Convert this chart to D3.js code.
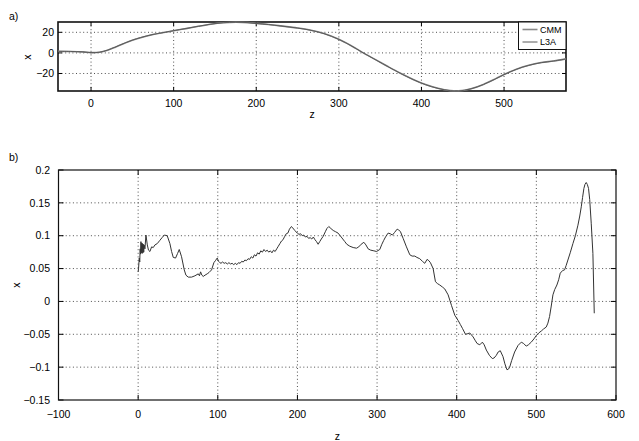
<!DOCTYPE html>
<html>
<head>
<meta charset="utf-8">
<script src="https://cdn.jsdelivr.net/npm/d3@7"></script>
<style>
  body { margin: 0; background: #fff; }
  svg text { font-family: "Liberation Sans", Arial, Helvetica, sans-serif; fill: #000; }
</style>
</head>
<body>
<svg width="639" height="441"></svg>
<script>
// panel a) - trajectory, two overlapping series
var zTop = [-40, -25, -10, 0, 10, 20, 30, 40, 50, 60, 75, 90, 100, 115, 130, 145, 160, 175, 190, 200,
  215, 230, 250, 265, 282, 300, 315, 328, 345, 360, 374, 390, 405, 420, 435, 445, 460, 475, 490, 500,
  515, 530, 545, 560, 575];
var cmm = [1.5, 1.4, 1.0, 0.3, 0.6, 2.6, 5.8, 9.2, 12.3, 14.8, 17.8, 20.0, 21.5, 23.6, 25.8, 27.8, 29.2, 29.8, 29.4, 28.7,
  27.6, 26.2, 24.2, 22.2, 18.8, 13.2, 7.0, 0.8, -6.8, -13.5, -19.5, -25.8, -30.8, -34.4, -36.6, -36.9, -34.8, -30.6, -25.0, -21.0,
  -15.8, -12.0, -9.4, -7.8, -5.8];
var l3a = [1.5, 1.4, 1.0, 0.3, 0.6, 2.7, 5.9, 9.3, 12.4, 14.9, 17.9, 20.1, 21.6, 23.7, 25.9, 27.9, 29.3, 29.8, 29.4, 28.6,
  27.5, 26.1, 24.1, 22.1, 18.7, 13.1, 6.9, 0.7, -6.9, -13.6, -19.6, -25.9, -30.9, -34.5, -36.7, -37.0, -34.9, -30.7, -25.1, -21.1,
  -15.9, -12.1, -9.5, -7.9, -5.9];
var seriesNames = ["CMM", "L3A"];
var topXTicks = [0, 100, 200, 300, 400, 500];
var topYTicks = [-20, 0, 20];

// panel b) - residual
var zBot = [0, 0.5, 1.4, 2, 2.5, 3, 3.5, 4, 4.5, 5, 5.5, 6, 6.5, 7, 7.5, 8.5, 9.8, 11.5, 13, 14.8,
  16.9, 19, 21.1, 24, 27.3, 30, 32.8, 36.5, 39.9, 42, 44.1, 47, 49.5, 51.6, 54.5, 57.9, 60, 62.9, 67.1, 71.3,
  75.5, 77, 78.4, 80, 81.7, 84, 86.7, 89, 92.2, 95.1, 97, 99.3, 101, 102.6, 104, 106, 108, 110, 112, 114,
  116, 118, 120, 122, 124, 126, 128, 130, 132, 134, 136, 138, 140, 142, 144, 146, 148, 150, 152, 154,
  156, 158, 160, 162, 164, 166, 168, 170, 172, 174, 176, 178, 180, 182, 184, 186, 188, 190, 192.5, 194,
  196.7, 198, 200, 202, 204, 206, 208, 210, 212, 214, 216, 218, 220, 222, 224, 226, 228, 230, 232.3, 235,
  237, 239.4, 242, 244.9, 248, 251, 255, 259.5, 262, 265.8, 270, 274.2, 277, 280, 283.4, 286, 288.8, 292, 296, 299.3,
  303.4, 306, 308.4, 311, 313.9, 316.5, 319.3, 322, 325.2, 327, 329.4, 332.7, 336.9, 341.1, 344, 347.4, 350, 353.6, 357, 359.9,
  362.8, 365, 367, 370.4, 373.3, 376, 378.7, 382, 385, 389.2, 393.4, 397.6, 401.8, 404.5, 407.2, 411, 414, 416.4, 418.5, 420.6,
  423, 425.6, 429, 432.2, 434.5, 437.2, 441, 444.7, 447, 449.7, 452, 454.7, 458.1, 460.5, 463.1, 465, 466.5, 469, 472.7, 477,
  481.1, 484, 487.3, 490, 493.6, 497, 499.9, 503, 506.2, 509, 512.4, 514.5, 516.6, 518.7, 520.8, 523, 525.8, 528, 530, 533,
  535.4, 537.5, 539.6, 542.5, 545.9, 549, 552.2, 554.5, 556.4, 558, 559.7, 561, 562.6, 564, 565.5, 567, 568.9, 570, 571, 572.7];
var xBot = [0.045, 0.050, 0.066, 0.060, 0.080, 0.072, 0.091, 0.074, 0.089, 0.073, 0.088, 0.074, 0.087, 0.075, 0.086, 0.080, 0.101, 0.086, 0.078, 0.076,
  0.083, 0.082, 0.086, 0.088, 0.093, 0.097, 0.101, 0.100, 0.088, 0.076, 0.067, 0.066, 0.073, 0.079, 0.068, 0.048, 0.040, 0.037, 0.037, 0.039,
  0.042, 0.039, 0.045, 0.040, 0.038, 0.040, 0.042, 0.044, 0.048, 0.059, 0.062, 0.066, 0.061, 0.059, 0.058, 0.060, 0.058, 0.059, 0.057, 0.059,
  0.057, 0.058, 0.056, 0.058, 0.056, 0.059, 0.058, 0.061, 0.060, 0.063, 0.062, 0.065, 0.064, 0.068, 0.066, 0.071, 0.069, 0.074, 0.072, 0.077,
  0.075, 0.079, 0.076, 0.078, 0.075, 0.077, 0.074, 0.078, 0.076, 0.080, 0.084, 0.088, 0.092, 0.094, 0.099, 0.103, 0.104, 0.110, 0.114, 0.112,
  0.108, 0.106, 0.104, 0.102, 0.103, 0.100, 0.101, 0.098, 0.099, 0.096, 0.097, 0.095, 0.098, 0.094, 0.091, 0.087, 0.091, 0.095, 0.099, 0.106,
  0.111, 0.114, 0.111, 0.108, 0.106, 0.104, 0.098, 0.091, 0.087, 0.084, 0.082, 0.081, 0.083, 0.087, 0.090, 0.086, 0.080, 0.078, 0.077, 0.076,
  0.079, 0.087, 0.093, 0.099, 0.104, 0.103, 0.101, 0.105, 0.110, 0.109, 0.106, 0.096, 0.083, 0.071, 0.069, 0.069, 0.067, 0.065, 0.061, 0.058,
  0.064, 0.062, 0.059, 0.050, 0.030, 0.027, 0.025, 0.022, 0.019, 0.010, -0.006, -0.021, -0.029, -0.035, -0.041, -0.050, -0.049, -0.048, -0.051, -0.054,
  -0.059, -0.064, -0.066, -0.062, -0.066, -0.074, -0.082, -0.087, -0.086, -0.082, -0.077, -0.075, -0.084, -0.095, -0.104, -0.103, -0.100, -0.090, -0.077, -0.067,
  -0.062, -0.064, -0.068, -0.066, -0.062, -0.057, -0.052, -0.048, -0.045, -0.042, -0.039, -0.033, -0.023, -0.007, 0.010, 0.018, 0.025, 0.033, 0.043, 0.047,
  0.048, 0.055, 0.063, 0.074, 0.088, 0.100, 0.116, 0.130, 0.144, 0.158, 0.172, 0.178, 0.181, 0.178, 0.172, 0.155, 0.119, 0.095, 0.073, -0.018];
var botXTicks = [-100, 0, 100, 200, 300, 400, 500, 600];
var botYTicks = [-0.15, -0.1, -0.05, 0, 0.05, 0.1, 0.15, 0.2];

var svg = d3.select("svg");

function fmt(v) {
  return d3.format("")(v).replace("-", "\u2212");
}

// draws box, dotted grid, inward ticks and tick labels (MATLAB look)
function panel(p) {
  var x = p.x, y = p.y;
  var l = x.range()[0], r = x.range()[1], t = y.range()[1], b = y.range()[0];
  var g = svg.append("g");

  g.selectAll(".gx").data(p.xt.filter(function (v) { return x(v) > l + 1 && x(v) < r - 1; }))
    .enter().append("line")
    .attr("x1", function (d) { return x(d); }).attr("x2", function (d) { return x(d); })
    .attr("y1", t).attr("y2", b)
    .style("stroke", "#222").style("stroke-width", 0.8).style("stroke-dasharray", "1,2.6");
  g.selectAll(".gy").data(p.yt.filter(function (v) { return y(v) < b - 1 && y(v) > t + 1; }))
    .enter().append("line")
    .attr("y1", function (d) { return y(d); }).attr("y2", function (d) { return y(d); })
    .attr("x1", l).attr("x2", r)
    .style("stroke", "#222").style("stroke-width", 0.8).style("stroke-dasharray", "1,2.6");

  var tl = p.tick;
  p.xt.forEach(function (v) {
    g.append("line").attr("x1", x(v)).attr("x2", x(v)).attr("y1", b).attr("y2", b - tl)
      .style("stroke", "#000").style("stroke-width", 1);
    g.append("line").attr("x1", x(v)).attr("x2", x(v)).attr("y1", t).attr("y2", t + tl)
      .style("stroke", "#000").style("stroke-width", 1);
    g.append("text").attr("x", x(v)).attr("y", b + p.xlabDy)
      .attr("text-anchor", "middle").style("font-size", "10.5px").text(fmt(v));
  });
  p.yt.forEach(function (v) {
    g.append("line").attr("y1", y(v)).attr("y2", y(v)).attr("x1", l).attr("x2", l + tl)
      .style("stroke", "#000").style("stroke-width", 1);
    g.append("line").attr("y1", y(v)).attr("y2", y(v)).attr("x1", r).attr("x2", r - tl)
      .style("stroke", "#000").style("stroke-width", 1);
    g.append("text").attr("x", l - p.ylabDx).attr("y", y(v)).attr("dy", "0.36em")
      .attr("text-anchor", "end").style("font-size", "10.5px").text(fmt(v));
  });

  g.append("rect").attr("x", l).attr("y", t).attr("width", r - l).attr("height", b - t)
    .style("fill", "none").style("stroke", "#111").style("stroke-width", p.frame);

  g.append("text").attr("x", (l + r) / 2).attr("y", p.zlabY)
    .attr("text-anchor", "middle").style("font-size", "10.5px").text("z");
  g.append("text").attr("transform", "translate(" + p.xlab[0] + "," + p.xlab[1] + ")rotate(-90)")
    .attr("text-anchor", "middle").style("font-size", "10.5px").text("x");
  g.append("text").attr("x", 9).attr("y", p.tagY).style("font-size", "10.5px").text(p.tag);
  return g;
}

// ---- a)
var xA = d3.scaleLinear().domain([-40, 575]).range([58, 566]);
var yA = d3.scaleLinear().domain([-37, 30]).range([91, 22]);
panel({ x: xA, y: yA, xt: topXTicks, yt: topYTicks, tick: 4, xlabDy: 16, ylabDx: 4, frame: 1.6,
  zlabY: 118, xlab: [31, 57], tag: "a)", tagY: 20 });

var lineA = d3.line()
  .x(function (d, i) { return xA(zTop[i]); })
  .y(function (d) { return yA(d); })
  .curve(d3.curveCatmullRom.alpha(0.5));
svg.append("path").datum(cmm).attr("d", lineA)
  .style("fill", "none").style("stroke", "#8a8a8a").style("stroke-width", 1.6);
svg.append("path").datum(l3a).attr("d", lineA)
  .style("fill", "none").style("stroke", "#5a5a5a").style("stroke-width", 1);

// legend
var lg = svg.append("g");
lg.append("rect").attr("x", 518.5).attr("y", 22).attr("width", 47.5).attr("height", 27.5)
  .style("fill", "#fff").style("stroke", "#111").style("stroke-width", 1);
seriesNames.forEach(function (n, i) {
  var yy = 29.5 + i * 12.5;
  lg.append("line").attr("x1", 522.5).attr("x2", 537.5).attr("y1", yy).attr("y2", yy)
    .style("stroke", i === 0 ? "#8a8a8a" : "#5a5a5a").style("stroke-width", i === 0 ? 1.6 : 1);
  lg.append("text").attr("x", 540).attr("y", yy).attr("dy", "0.36em")
    .style("font-size", "9px").text(n);
});

// ---- b)
var xB = d3.scaleLinear().domain([-100, 600]).range([58.5, 616]);
var yB = d3.scaleLinear().domain([-0.15, 0.2]).range([400, 170]);
panel({ x: xB, y: yB, xt: botXTicks, yt: botYTicks, tick: 5, xlabDy: 18, ylabDx: 8.5, frame: 1.2,
  zlabY: 440, xlab: [20, 285], tag: "b)", tagY: 161 });

var lineB = d3.line()
  .x(function (d, i) { return xB(zBot[i]); })
  .y(function (d) { return yB(d); });
svg.append("path").datum(xBot).attr("d", lineB)
  .style("fill", "none").style("stroke", "#333").style("stroke-width", 1)
  .style("stroke-linejoin", "round");
</script>
</body>
</html>
